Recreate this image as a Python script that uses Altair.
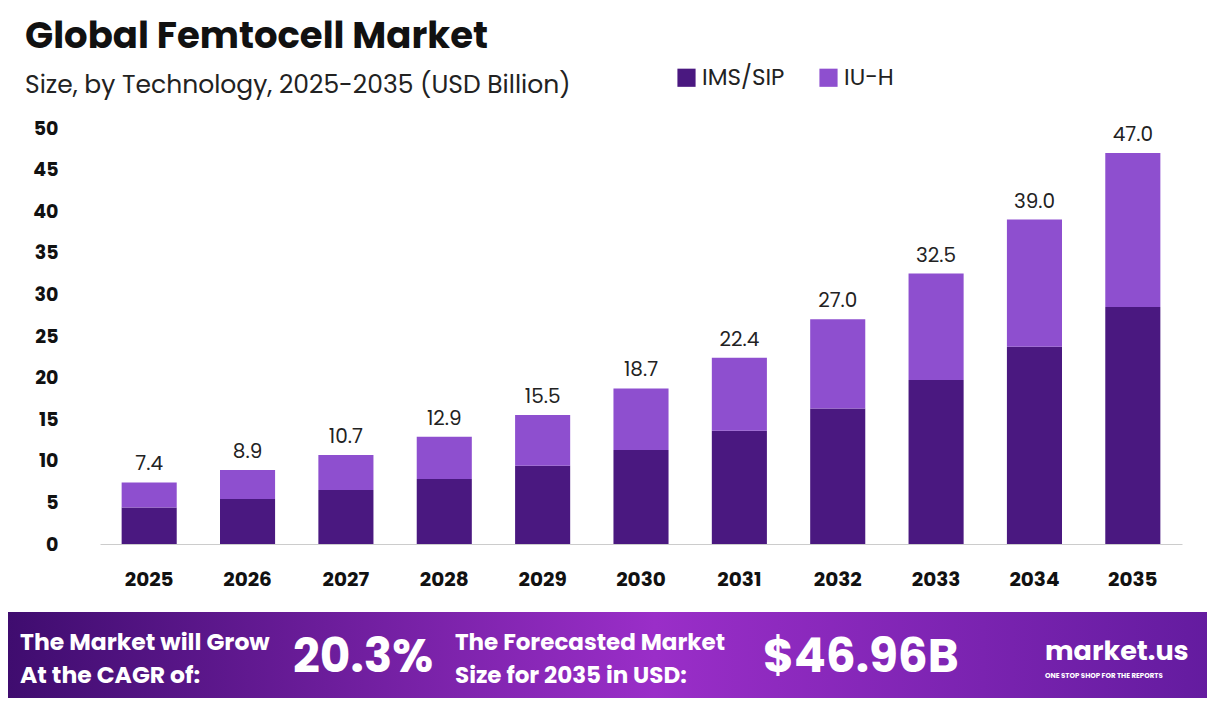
import pandas as pd
import altair as alt

years = ["2025", "2026", "2027", "2028", "2029", "2030", "2031", "2032", "2033", "2034", "2035"]
totals = [7.4, 8.9, 10.7, 12.9, 15.5, 18.7, 22.4, 27.0, 32.5, 39.0, 47.0]
ims_sip = [4.4, 5.4, 6.5, 7.8, 9.4, 11.3, 13.6, 16.3, 19.7, 23.7, 28.5]
iu_h = [round(t - s, 1) for t, s in zip(totals, ims_sip)]

segments = ["IMS/SIP", "IU-H"]
colors = ["#4a1880", "#8e4fcf"]

rows = []
for y, a, b in zip(years, ims_sip, iu_h):
    rows.append({"year": y, "segment": "IMS/SIP", "value": a, "ord": 0})
    rows.append({"year": y, "segment": "IU-H", "value": b, "ord": 1})
df = pd.DataFrame(rows)
tot = pd.DataFrame({"year": years, "total": totals, "label": [f"{t:.1f}" for t in totals]})

W, H = 1082, 416
FONT = "Poppins, Inter, Open Sans, sans-serif"

xenc = alt.X("year:N", sort=years, title=None,
             scale=alt.Scale(paddingInner=0.44, paddingOuter=0.22),
             axis=alt.Axis(labelFontSize=20, labelFontWeight="bold", labelColor="#111",
                           labelPadding=25, ticks=False, domainColor="#cccccc", labelAngle=0))

bars = alt.Chart(df).mark_bar().encode(
    x=xenc,
    y=alt.Y("value:Q", stack="zero", title=None,
            scale=alt.Scale(domain=[0, 50]),
            axis=alt.Axis(values=list(range(0, 51, 5)), labelFontSize=19, labelFontWeight="bold",
                          labelColor="#111", grid=False, domain=False, ticks=False, labelPadding=42)),
    color=alt.Color("segment:N", scale=alt.Scale(domain=segments, range=colors),
                    legend=alt.Legend(title=None, orient="none", legendX=575, legendY=-62,
                                      direction="horizontal", symbolType="square", symbolSize=330,
                                      labelFontSize=23, labelColor="#222", labelFont=FONT,
                                      columnPadding=32, symbolStrokeWidth=0)),
    order=alt.Order("ord:Q"),
)

labels = alt.Chart(tot).mark_text(dy=-18, fontSize=20, color="#222", font=FONT).encode(
    x=alt.X("year:N", sort=years), y=alt.Y("total:Q"), text="label:N")

def txt(s, x, y, size, weight="normal", color="#111", align="left"):
    return alt.Chart(pd.DataFrame({"t": [s]})).mark_text(
        align=align, baseline="middle", fontSize=size, fontWeight=weight, color=color, font=FONT
    ).encode(text="t:N", x=alt.value(x), y=alt.value(y))

footer = alt.Chart(pd.DataFrame({"a": [0]})).mark_rect(
    color=alt.Gradient(gradient="linear", x1=0, x2=1, y1=0, y2=0,
                       stops=[alt.GradientStop(color="#3e0c6e", offset=0),
                              alt.GradientStop(color="#9a2ec8", offset=0.5),
                              alt.GradientStop(color="#5a1898", offset=1)])
).encode(x=alt.value(-100), x2=alt.value(1210), y=alt.value(484), y2=alt.value(620))

texts = [
    txt("Global Femtocell Market", -75, -91, 37, "bold"),
    txt("Size, by Technology, 2025-2035 (USD Billion)", -75, -43, 25, color="#222"),
    txt("The Market will Grow", -80, 515, 23.5, "bold", "white"),
    txt("At the CAGR of:", -80, 548, 23.5, "bold", "white"),
    txt("20.3%", 193, 530, 47, "bold", "white"),
    txt("The Forecasted Market", 355, 515, 23, "bold", "white"),
    txt("Size for 2035 in USD:", 355, 548, 23, "bold", "white"),
    txt("$46.96B", 663, 530, 47, "bold", "white"),
    txt("market.us", 945, 524, 27, "bold", "white"),
    txt("ONE STOP SHOP FOR THE REPORTS", 945, 548, 7, "bold", "white"),
]

chart = alt.layer(bars, labels, footer, *texts).properties(
    width=W, height=H,
    autosize=alt.AutoSizeParams(type="none"),
    padding={"left": 92, "top": 120, "right": 25, "bottom": 154},
    background="white",
).configure_view(stroke=None).configure_axis(labelFont=FONT)

chart.save("out.html", embed_options={"renderer": "svg", "actions": False})
